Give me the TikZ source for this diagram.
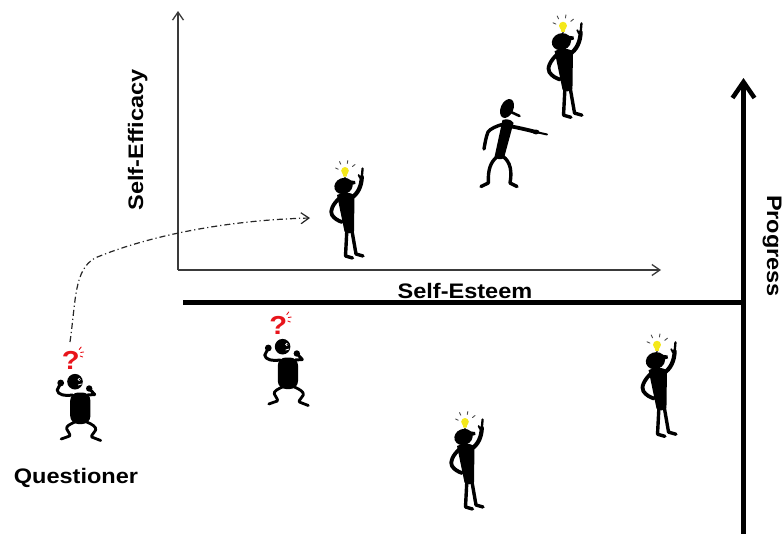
\documentclass[tikz,border=0pt]{standalone}
\usepackage{fontspec}
\setmainfont{Liberation Sans}[FakeStretch=1.12]
\usetikzlibrary{arrows.meta}
\definecolor{axisgray}{HTML}{3A3A3A}
\definecolor{bulbyellow}{HTML}{F4E81A}
\definecolor{qred}{HTML}{E8141B}
\begin{document}
\begin{tikzpicture}[x=1pt,y=-1pt,
  label text/.style={font=\bfseries\fontsize{21}{25}\selectfont, inner sep=0pt},
  axis/.style={draw=axisgray, line width=1.3pt, -{Straight Barb[length=8pt,width=11pt]}},
  limb/.style={line width=3.4pt, line cap=round, line join=round},
  ray/.style={draw=black!70, line width=0.9pt, line cap=round},
  qray/.style={draw=qred, line width=0.9pt, line cap=round},
  dashdot/.style={draw=black!85, line width=1.2pt, dash pattern=on 6pt off 3pt on 1.2pt off 3pt},
  % stick figure with a light bulb and a raised finger; origin = bulb centre
  pics/idea/.style={code={
    \fill[bulbyellow] (0,-1.2) circle (3.8);
    \fill[bulbyellow] (-2.5,0.5) -- (2.5,0.5) -- (1.6,4.6) -- (-1.6,4.6) -- cycle;
    \fill[black!65] (-1.4,4.6) rectangle (1.4,6.1);
    \draw[ray] (-9.5,-4) -- (-6.8,-2.8);
    \draw[ray] (-5.5,-10.5) -- (-4.2,-7.8);
    \draw[ray] (2.8,-11.5) -- (2.3,-8.6);
    \draw[ray] (10,-7.5) -- (7.4,-5.4);
    \fill[rotate around={20:(-1.5,14)}] (-1.5,14) ellipse (9.3 and 8);
    \fill (3,8) -- (10,9) -- (10.5,11.8) -- (5,13.5) -- cycle;
    \fill (-8,23) .. controls (-3,20) and (5,20) .. (9.5,23) -- (9,59)
          .. controls (7,62) and (1,62) .. (-0.5,59.5) -- cycle;
    \draw[limb, line width=4.2pt] (6,26) .. controls (13,22) and (16.5,14) .. (16.8,5);
    \draw[limb, line width=2.3pt] (16.8,5) -- (17.6,-3.5);
    \draw[limb, line width=1.8pt] (15,6) -- (13.6,3);
    \draw[limb, line width=3.8pt] (-5.5,26) .. controls (-12,32) and (-15.5,39) .. (-13,43)
          .. controls (-10.5,47) and (-6,49) .. (-3,50);
    \draw[limb] (1.8,59) -- (0.5,84) -- (7.5,86);
    \draw[limb] (7,59) -- (11,82) -- (18,84);
  }},
  % puzzled figure with a red question mark; origin = question mark centre
  pics/puzzled/.style={code={
    \node[text=qred, font=\bfseries\fontsize{26}{26}\selectfont, inner sep=0pt] (qmark) at (0,0) {?};
    \draw[qray] (8.5,-10.5) -- (10.5,-13);
    \draw[qray] (10,-7.5) -- (13,-8);
    \draw[qray] (9.5,-4) -- (12,-3);
    \fill (4.3,21.7) circle (7.8);
    \fill[white] (8.5,19.5) circle (1.6);
    \fill (9,19.6) circle (0.7);
    \draw[white, line width=0.8pt, line cap=round] (7.5,25) -- (10.8,24);
    \draw[limb, line width=3pt] (2,35) .. controls (-6,36) and (-13,35) .. (-13.5,30) -- (-10,23);
    \fill (-10,23) circle (3.4);
    \draw[limb, line width=3pt] (17,35) -- (24,34.5) -- (19,29);
    \fill (18.5,28.5) circle (3.2);
    \fill[rounded corners=8pt] (-0.5,64) -- (-0.5,32.5) -- (19.7,32.5) -- (19.7,64) -- cycle;
    \draw[limb, line width=2.8pt] (4,62) .. controls (0,64) and (-5,66) .. (-4,69)
          .. controls (-3,72) and (0,74) .. (-1,76) -- (-9.5,79);
    \draw[limb, line width=2.8pt] (16,62) .. controls (21,64) and (26,67) .. (25,70)
          .. controls (24,73) and (20,75) .. (21,77) -- (30,80.5);
  }},
  % figure pointing to the right; origin = top left corner of its frame
  pics/pointing/.style={code={
    \fill[rotate around={-24:(37,18.5)}] (37,18.5) ellipse (6.3 and 10);
    \draw[limb, line width=2.6pt] (41,22) -- (49.5,26);
    \fill (32.5,30) .. controls (37,28.5) and (41.5,29.5) .. (43.5,33) -- (34,68)
          .. controls (31,70) and (27,69.5) .. (24.5,67) -- cycle;
    \draw[limb, line width=3.8pt] (39,36) .. controls (50,38) and (58,40) .. (66,42);
    \fill (66,42) ellipse (3.4 and 2.4);
    \draw[limb, line width=2pt] (66,42) -- (77,44.5);
    \draw[limb] (34,34) .. controls (26,36) and (20,39) .. (18,42)
          .. controls (16,47) and (15,53) .. (14,59);
    \draw[limb] (28,66) .. controls (20,72) and (18,80) .. (18.3,93) -- (11,96.5);
    \draw[limb] (32.5,66) .. controls (41,72) and (42,82) .. (40,93) -- (47,96.5);
  }}
]
\useasboundingbox (0,0) rectangle (784,533);

% self-efficacy / self-esteem axes
\coordinate (origin) at (178,270);
\coordinate (effTop) at (178,11);
\coordinate (estRight) at (661,270);
\draw[axis] (origin) -- (effTop);
\draw[axis] (origin) -- (estRight);
\node[label text, rotate=90, anchor=base] (efficacy) at (143,140) {Self-Efficacy};
\node[label text, anchor=base] (esteem) at (465,298) {Self-Esteem};

% base line and progress arrow
\coordinate (baseL) at (183,302.5);
\coordinate (baseR) at (741,302.5);
\draw[line width=5pt] (baseL) -- (baseR);
\coordinate (progBottom) at (743.5,534);
\coordinate (progTop) at (743.5,78);
\draw[line width=4.5pt, -{Straight Barb[length=16pt,width=22pt]}] (progBottom) -- (progTop);
\node[label text, rotate=-90, anchor=base] (progress) at (767,246) {Progress};

% figures
\pic (quest) at (70.7,360) {puzzled};
\pic (doubt) at (278.3,325) {puzzled};
\pic (ideaA) at (345,172) {idea};
\pic (ideaB) at (563,27) [scale=1.05] {idea};
\pic (ideaC) at (465,423) {idea};
\pic (ideaD) at (657,346) [scale=1.05] {idea};
\pic (pointer) at (470,90) {pointing};
\node[label text, anchor=base] (questioner) at (76,483) {Questioner};

% path from the questioner up into the chart
\coordinate (questTop) at (70,342);
\coordinate (ideaAleft) at (310,218);
\draw[dashdot, -{Straight Barb[length=8pt,width=11pt]}] (questTop)
  .. controls (76,300) and (74,270) .. (95,258)
  .. controls (150,235) and (230,220) .. (ideaAleft);
\end{tikzpicture}
\end{document}
